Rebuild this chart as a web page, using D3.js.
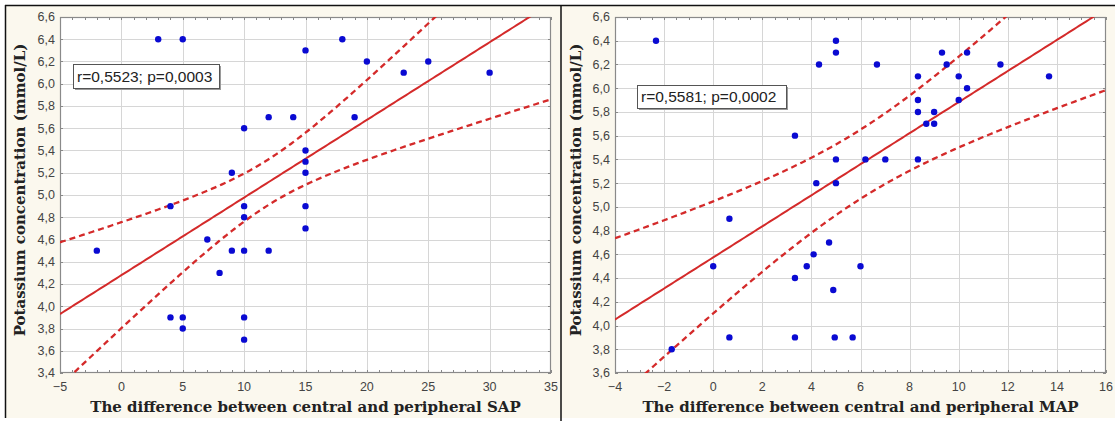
<!DOCTYPE html>
<html><head><meta charset="utf-8">
<script src="https://cdn.jsdelivr.net/npm/d3@7"></script>
<style>body{margin:0;background:#fff}svg{display:block}</style>
</head><body><svg id="c" width="1115" height="421"></svg>
<script>
// ---- data ----
const sapX = [-2, 3, 5, 4, 4, 5, 5, 7, 8, 9, 9, 10, 12, 10, 10, 10, 10, 10, 12, 14, 15, 15, 15, 15, 15, 15, 18, 19, 20, 23, 25, 30];
const sapY = [4.5, 6.4, 6.4, 4.9, 3.9, 3.9, 3.8, 4.6, 4.3, 5.2, 4.5, 4.5, 4.5, 5.6, 4.9, 4.8, 3.9, 3.7, 5.7, 5.7, 6.3, 5.4, 5.3, 5.2, 4.9, 4.7, 6.4, 5.7, 6.2, 6.1, 6.2, 6.1];
const mapX = [-2.33, 3.33, 4.31, 4.2, 5, 5, 5, 5, 6.67, 8.34, 9.32, 10.34, 9.51, 10, 10.34, 11.7, 13.68, 8.34, 10, 8.34, 9, 8.68, 9, 6.2, 7.01, 8.34, 0.66, 0, 3.33, 3.81, 4.09, 4.72, 4.89, 6, -1.69, 0.66, 3.33, 4.95, 5.68];
const mapY = [6.4, 5.6, 6.2, 5.2, 6.4, 6.3, 5.4, 5.2, 6.2, 6.1, 6.3, 6.3, 6.2, 6.1, 6.0, 6.2, 6.1, 5.9, 5.9, 5.8, 5.8, 5.7, 5.7, 5.4, 5.4, 5.4, 4.9, 4.5, 4.4, 4.5, 4.6, 4.7, 4.3, 4.5, 3.8, 3.9, 3.9, 3.9, 3.9];
const sapXTicks = [-5, 0, 5, 10, 15, 20, 25, 30, 35];
const sapYTicks = [3.4, 3.6, 3.8, 4.0, 4.2, 4.4, 4.6, 4.8, 5.0, 5.2, 5.4, 5.6, 5.8, 6.0, 6.2, 6.4, 6.6];
const mapXTicks = [-4, -2, 0, 2, 4, 6, 8, 10, 12, 14, 16];
const mapYTicks = [3.6, 3.8, 4.0, 4.2, 4.4, 4.6, 4.8, 5.0, 5.2, 5.4, 5.6, 5.8, 6.0, 6.2, 6.4, 6.6];
// regression line [intercept, slope] and 95% band half-width^2 = a + b*(x-c)^2
const sapFit = [4.279, 0.0698];
const sapBand = [0.042, 0.001312, 11.875];
const mapFit = [4.574, 0.1309];
const mapBand = [0.085, 0.00384, 6.0];
const sapStat = "r=0,5523; p=0,0003";
const mapStat = "r=0,5581; p=0,0002";
const sapXLabel = "The difference between central and peripheral SAP";
const mapXLabel = "The difference between central and peripheral MAP";
const yLabel = "Potassium concentration (mmol/L)";

const svg = d3.select("#c");
// background and frame
svg.append("rect").attr("x", 6).attr("y", 5).attr("width", 1109).attr("height", 413).attr("fill", "#fbf8ee");
svg.append("line").attr("x1", 5).attr("x2", 1115).attr("y1", 5.5).attr("y2", 5.5).attr("stroke", "#111").attr("stroke-width", 1.5);
svg.append("line").attr("x1", 5.5).attr("x2", 5.5).attr("y1", 5).attr("y2", 418).attr("stroke", "#111").attr("stroke-width", 1.5);
svg.append("line").attr("x1", 561).attr("x2", 561).attr("y1", 5).attr("y2", 421).attr("stroke", "#111").attr("stroke-width", 1.5);

function panel(cfg) {
  const {x0, x1, y0, y1} = cfg;
  const xs = d3.scaleLinear().domain(d3.extent(cfg.xTicks)).range([x0, x1]);
  const ys = d3.scaleLinear().domain(d3.extent(cfg.yTicks)).range([y1, y0]);
  const g = svg.append("g");
  const id = "clip" + cfg.name;
  svg.append("clipPath").attr("id", id).append("rect").attr("x", x0).attr("y", y0).attr("width", x1 - x0).attr("height", y1 - y0);
  g.append("rect").attr("x", x0).attr("y", y0).attr("width", x1 - x0).attr("height", y1 - y0).attr("fill", "#fff");
  // grid
  g.selectAll(".gx").data(cfg.xTicks.slice(1, -1)).join("line")
    .attr("x1", d => Math.round(xs(d)) + 0.5).attr("x2", d => Math.round(xs(d)) + 0.5)
    .attr("y1", y0).attr("y2", y1).attr("stroke", "#d6d6d6").attr("stroke-width", 1);
  g.selectAll(".gy").data(cfg.yTicks.slice(1, -1)).join("line")
    .attr("y1", d => Math.round(ys(d)) + 0.5).attr("y2", d => Math.round(ys(d)) + 0.5)
    .attr("x1", x0).attr("x2", x1).attr("stroke", "#d6d6d6").attr("stroke-width", 1);
  // minor ticks (inside) on all four sides
  const xd = xs.domain();
  const minorX = d3.range(xd[0], xd[1] + 1e-9, cfg.xMinor);
  const tk = g.append("g").attr("stroke", "#888").attr("stroke-width", 1);
  minorX.forEach(v => {
    const px = Math.round(xs(v)) + 0.5;
    tk.append("line").attr("x1", px).attr("x2", px).attr("y1", y1).attr("y2", y1 - 3);
    tk.append("line").attr("x1", px).attr("x2", px).attr("y1", y0).attr("y2", y0 + 3);
  });
  cfg.yTicks.forEach(v => {
    const py = Math.round(ys(v)) + 0.5;
    tk.append("line").attr("x1", x0).attr("x2", x0 + 3).attr("y1", py).attr("y2", py);
    tk.append("line").attr("x1", x1).attr("x2", x1 - 3).attr("y1", py).attr("y2", py);
  });
  // plot border
  g.append("rect").attr("x", x0 + 0.5).attr("y", y0 + 0.5).attr("width", x1 - x0 - 1).attr("height", y1 - y0 - 1)
    .attr("fill", "none").attr("stroke", "#8a8a8a").attr("stroke-width", 1.2);
  // tick labels
  const fmtY = d => d3.format(".1f")(d).replace(".", ",");
  g.selectAll(".ty").data(cfg.yTicks).join("text")
    .attr("x", x0 - 5).attr("y", d => ys(d)).attr("dy", "0.35em")
    .attr("text-anchor", "end").attr("font-family", "Liberation Sans, Arial, sans-serif")
    .attr("font-size", 12.5).attr("fill", "#444").text(fmtY);
  g.selectAll(".tx").data(cfg.xTicks).join("text")
    .attr("x", d => xs(d)).attr("y", y1 + 18)
    .attr("text-anchor", "middle").attr("font-family", "Liberation Sans, Arial, sans-serif")
    .attr("font-size", 12.5).attr("fill", "#444").text(d => d3.format("d")(d));
  // regression + bands
  const samples = d3.range(xd[0], xd[1] + 1e-9, (xd[1] - xd[0]) / 200);
  const fit = x => cfg.fit[0] + cfg.fit[1] * x;
  const hw = x => Math.sqrt(cfg.band[0] + cfg.band[1] * (x - cfg.band[2]) ** 2);
  const lg = g.append("g").attr("clip-path", `url(#${id})`);
  const line = f => d3.line().x(d => xs(d)).y(d => ys(f(d)))(samples);
  lg.append("path").attr("d", line(fit)).attr("fill", "none").attr("stroke", "#d42a2a").attr("stroke-width", 2);
  [x => fit(x) + hw(x), x => fit(x) - hw(x)].forEach(f => {
    lg.append("path").attr("d", line(f)).attr("fill", "none").attr("stroke", "#d42a2a")
      .attr("stroke-width", 2.3).attr("stroke-dasharray", "6,4");
  });
  // points
  const pts = cfg.xv.map((x, i) => [x, cfg.yv[i]]);
  g.selectAll(".pt").data(pts).join("circle")
    .attr("cx", d => xs(d[0])).attr("cy", d => ys(d[1])).attr("r", 3.2).attr("fill", "#0a0ad2");
  // stat box
  const sb = cfg.box;
  g.append("rect").attr("x", sb[0] + 2).attr("y", sb[1] + 2).attr("width", sb[2]).attr("height", sb[3]).attr("fill", "#9a9a9a");
  g.append("rect").attr("x", sb[0] + 0.5).attr("y", sb[1] + 0.5).attr("width", sb[2]).attr("height", sb[3])
    .attr("fill", "#fff").attr("stroke", "#555").attr("stroke-width", 1);
  g.append("text").attr("x", sb[0] + 4).attr("y", sb[1] + sb[3] / 2 + 5.5)
    .attr("font-family", "Liberation Sans, Arial, sans-serif").attr("font-size", 15.5).attr("fill", "#222").text(cfg.stat);
  // axis titles
  g.append("text").attr("x", (x0 + x1) / 2).attr("y", 412).attr("text-anchor", "middle")
    .attr("font-family", "DejaVu Serif, serif").attr("font-weight", "bold").attr("font-size", 15)
    .attr("fill", "#222").text(cfg.xLabel);
  g.append("text").attr("transform", `translate(${cfg.yTitleX},190) rotate(-90)`).attr("text-anchor", "middle")
    .attr("dy", "0.35em")
    .attr("font-family", "DejaVu Serif, serif").attr("font-weight", "bold").attr("font-size", 15)
    .attr("fill", "#222").text(yLabel);
}

panel({name: "sap", x0: 60, x1: 551, y0: 17, y1: 373, xTicks: sapXTicks, yTicks: sapYTicks, xMinor: 1,
  xv: sapX, yv: sapY, fit: sapFit, band: sapBand, stat: sapStat, box: [73, 64, 146, 24], xLabel: sapXLabel, yTitleX: 20});
panel({name: "map", x0: 615, x1: 1106, y0: 17, y1: 373, xTicks: mapXTicks, yTicks: mapYTicks, xMinor: 0.5,
  xv: mapX, yv: mapY, fit: mapFit, band: mapBand, stat: mapStat, box: [637, 85, 149, 23], xLabel: mapXLabel, yTitleX: 576});
</script></body></html>
